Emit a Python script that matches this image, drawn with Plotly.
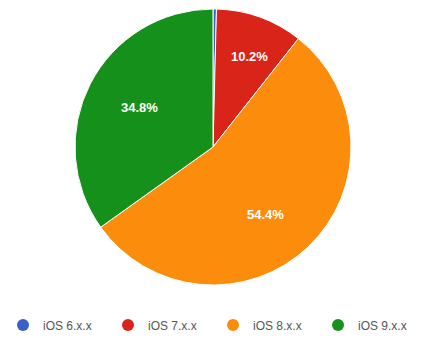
import math
import plotly.graph_objects as go

labels = ["iOS 6.x.x", "iOS 7.x.x", "iOS 8.x.x", "iOS 9.x.x"]
values = [0.4, 10.2, 54.4, 34.8]
colors = ["#3a5fc8", "#d9241a", "#fc8c0c", "#15901a"]
slice_text = ["", "10.2%", "54.4%", "34.8%"]

W, H = 424, 338
ML, MR, MT, MB = 2, 0, 9, 53
pw, ph = W - ML - MR, H - MT - MB
R = min(pw, ph) / 2
label_frac = 0.77

fig = go.Figure()
fig.add_trace(go.Pie(
    labels=labels, values=values, sort=False, direction="clockwise", rotation=0,
    marker=dict(colors=colors, line=dict(color="white", width=1)),
    textinfo="none", showlegend=False, hoverinfo="label+percent",
))
for lab, col in zip(labels, colors):
    fig.add_trace(go.Scatter(x=[None], y=[None], mode="markers", name=lab,
                             marker=dict(symbol="circle", size=12, color=col)))

# slice labels placed along each slice's mid-angle
total = sum(values)
cum = 0.0
annotations = []
for v, t in zip(values, slice_text):
    mid = (cum + v / 2) / total * 2 * math.pi
    cum += v
    if not t:
        continue
    annotations.append(dict(
        x=0.5 + label_frac * R * math.sin(mid) / pw,
        y=0.5 + label_frac * R * math.cos(mid) / ph,
        xref="paper", yref="paper", text="<b>" + t + "</b>", showarrow=False,
        font=dict(color="white", size=13, family="Liberation Sans, Arial"),
    ))

fig.update_layout(
    width=W, height=H,
    margin=dict(l=ML, r=MR, t=MT, b=MB, autoexpand=False),
    paper_bgcolor="white", plot_bgcolor="white",
    xaxis=dict(visible=False), yaxis=dict(visible=False),
    showlegend=True,
    annotations=annotations,
    legend=dict(orientation="h", x=0.5, xanchor="center", y=-40 / ph, yanchor="middle",
                font=dict(family="Liberation Sans, Arial", size=12, color="#555"),
                itemwidth=30, entrywidth=60, entrywidthmode="pixels",
                bgcolor="rgba(0,0,0,0)"),
    font=dict(family="Liberation Sans, Arial"),
)
fig.write_html("out.html")
